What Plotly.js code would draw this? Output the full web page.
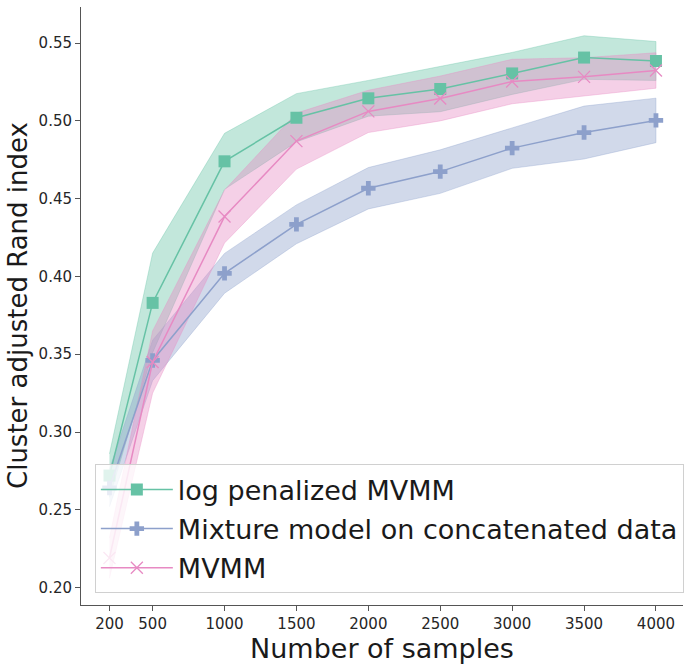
<!DOCTYPE html>
<html>
<head>
<meta charset="utf-8">
<script src="https://cdn.plot.ly/plotly-3.0.1.min.js"></script>
<style>html,body{margin:0;padding:0;background:#fff;}#chart{width:700px;height:667px;}</style>
</head>
<body>
<div id="chart"></div>
<script>
// ---- data ----
const samples = [200, 500, 1000, 1500, 2000, 2500, 3000, 3500, 4000];
const seriesNames = ["log penalized MVMM", "Mixture model on concatenated data", "MVMM"];

const logPenMean = [0.272, 0.383, 0.474, 0.502, 0.5145, 0.5205, 0.5305, 0.5407, 0.5385];
const logPenStd  = [0.014, 0.032, 0.018, 0.0155, 0.0115, 0.0146, 0.0135, 0.014, 0.0125];

const concatMean = [0.264, 0.346, 0.402, 0.4335, 0.4567, 0.4674, 0.4825, 0.4925, 0.5003];
const concatStd  = [0.012, 0.013, 0.0128, 0.0125, 0.0133, 0.014, 0.013, 0.017, 0.0143];

const mvmmMean = [0.219, 0.345, 0.4385, 0.487, 0.5061, 0.5144, 0.5253, 0.5283, 0.5324];
const mvmmStd  = [0.013, 0.02, 0.017, 0.018, 0.0136, 0.0144, 0.0143, 0.0123, 0.0114];

const yTickVals = [0.20, 0.25, 0.30, 0.35, 0.40, 0.45, 0.50, 0.55];
const xTickVals = [200, 500, 1000, 1500, 2000, 2500, 3000, 3500, 4000];
const xTitle = "Number of samples";
const yTitle = "Cluster adjusted Rand index";

// ---- styling ----
const colors = ["#66c2a5", "#8da0cb", "#e78ac3"];
const bandFill = ["rgba(102,194,165,0.4)", "rgba(141,160,203,0.4)", "rgba(231,138,195,0.4)"];
const bandEdge = ["rgba(102,194,165,0.35)", "rgba(141,160,203,0.35)", "rgba(231,138,195,0.35)"];
const symbols = ["square", "cross", "x-thin"];
const msizes = [12, 12, 12];

function bandTrace(mean, std, i) {
  const upper = mean.map((m, k) => m + std[k]);
  const lower = mean.map((m, k) => m - std[k]);
  return {
    x: samples.concat(samples.slice().reverse()),
    y: upper.concat(lower.slice().reverse()),
    type: "scatter", mode: "lines", fill: "toself",
    fillcolor: bandFill[i],
    line: {color: bandEdge[i], width: 1},
    hoverinfo: "skip", showlegend: false, legendgroup: "g" + i
  };
}
function lineTrace(mean, i) {
  return {
    x: samples, y: mean, type: "scatter", mode: "lines+markers",
    name: seriesNames[i], legendgroup: "g" + i,
    line: {color: colors[i], width: 1.5},
    marker: {symbol: symbols[i], size: msizes[i], color: colors[i],
             line: {color: colors[i], width: i === 2 ? 1.3 : 0}}
  };
}

const data = [
  bandTrace(logPenMean, logPenStd, 0),
  bandTrace(concatMean, concatStd, 1),
  bandTrace(mvmmMean, mvmmStd, 2),
  lineTrace(logPenMean, 0),
  lineTrace(concatMean, 1),
  lineTrace(mvmmMean, 2)
];

const font = "DejaVu Sans, Liberation Sans, sans-serif";
const layout = {
  width: 700, height: 667,
  margin: {l: 81, r: 17, t: 7, b: 62},
  paper_bgcolor: "#fff", plot_bgcolor: "#fff",
  font: {family: font, color: "#262626"},
  showlegend: true,
  legend: {
    x: 0.023, y: 0.235, xanchor: "left", yanchor: "top",
    bgcolor: "rgba(255,255,255,0.8)", bordercolor: "#d0d0d0", borderwidth: 1,
    font: {family: font, size: 27, color: "#1a1a1a"},
    traceorder: "grouped", tracegroupgap: 1, itemwidth: 72
  },
  xaxis: {
    range: [2, 4188], tickvals: xTickVals, ticktext: xTickVals.map(String),
    showgrid: false, zeroline: false, showline: true, linecolor: "#555", linewidth: 1,
    ticks: "outside", ticklen: 5, tickcolor: "#555", tickwidth: 1,
    tickfont: {size: 15, color: "#262626"},
    title: {text: xTitle, font: {size: 27, color: "#1a1a1a"}, standoff: 6}
  },
  yaxis: {
    range: [0.1888, 0.5732], tickvals: yTickVals, ticktext: yTickVals.map(v => v.toFixed(2)),
    showgrid: false, zeroline: false, showline: true, linecolor: "#555", linewidth: 1,
    ticks: "outside", ticklen: 5, tickcolor: "#555", tickwidth: 1,
    tickfont: {size: 15, color: "#262626"}
  },
  annotations: [{
    text: yTitle, textangle: -90, showarrow: false,
    xref: "paper", yref: "paper", x: 0, y: 0.5, xanchor: "center", yanchor: "middle",
    xshift: -63, yshift: 0,
    font: {family: font, size: 26, color: "#1a1a1a"}
  }]
};

Plotly.newPlot("chart", data, layout, {displayModeBar: false, staticPlot: true});
</script>
</body>
</html>
